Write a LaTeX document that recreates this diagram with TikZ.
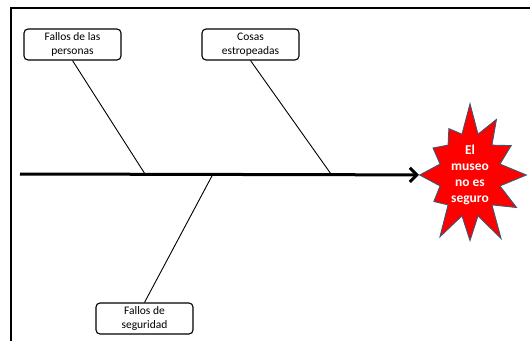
\documentclass[tikz,border=0pt]{standalone}
\usepackage{fontspec}
\setmainfont{Carlito}
\usetikzlibrary{shapes,shapes.symbols,arrows.meta,positioning}
\definecolor{starred}{HTML}{FF0000}
\definecolor{starline}{HTML}{3C5773}

\begin{document}
\begin{tikzpicture}[x=1pt, y=-1pt,
  cause/.style={draw, rounded corners=4pt, line width=1.1pt, minimum width=97pt, minimum height=31pt,
    inner sep=1pt, align=center, font=\fontsize{11.5}{14}\selectfont},
  bone/.style={line width=0.9pt},
  spine/.style={line width=3pt, -{Straight Barb[length=7pt, width=14pt]}}
]
  \useasboundingbox (0,0) rectangle (530,341);
  \draw[line width=1.5pt] (11,341) -- (11,8) -- (530,8);

  % causes
  \node[cause] (personas) at (72.5,44.5) {Fallos de las\\personas};
  \node[cause] (cosas) at (250.5,44.5) {Cosas\\estropeadas};
  \node[cause] (seguridad) at (144.5,318.5) {Fallos de\\seguridad};

  % effect
  \node[starburst, starburst points=12, starburst point height=32pt, random starburst=7,
    fill=starred, draw=starline, line width=0.9pt, minimum width=126pt, minimum height=142pt,
    inner sep=0pt, text=white, align=center, font=\bfseries\fontsize{13.5}{16}\selectfont]
    (effect) at (470,175) {El\\museo\\no es\\seguro};

  \coordinate (tail) at (20,174);
  \coordinate (p1) at (145,174);
  \coordinate (p2) at (331,174);
  \coordinate (p3) at (213,174);

  \draw[spine] (tail) -- (effect);
  \draw[bone] (personas.south) -- (p1);
  \draw[bone] (cosas.south) -- (p2);
  \draw[bone] (p3) -- (seguridad.north);
\end{tikzpicture}
\end{document}
